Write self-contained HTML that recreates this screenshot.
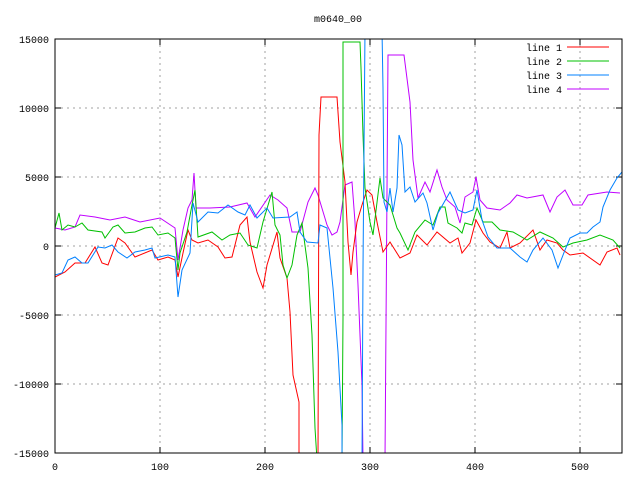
<!DOCTYPE html>
<html><head><style>body{margin:0;background:#fff}svg{display:block}</style></head><body>
<svg width="640" height="480" xmlns="http://www.w3.org/2000/svg" font-family="Liberation Mono, DejaVu Sans Mono, monospace" font-size="10">
<defs><clipPath id="c"><rect x="55" y="39" width="567" height="414"/></clipPath></defs>
<g stroke="#a0a0a0" stroke-dasharray="2,4" stroke-width="1">
<line x1="160" y1="39" x2="160" y2="453"/><line x1="265" y1="39" x2="265" y2="453"/><line x1="370" y1="39" x2="370" y2="453"/><line x1="475" y1="39" x2="475" y2="453"/><line x1="580" y1="39" x2="580" y2="453"/>
<line x1="55" y1="108" x2="622" y2="108"/><line x1="55" y1="177" x2="622" y2="177"/><line x1="55" y1="246" x2="622" y2="246"/><line x1="55" y1="315" x2="622" y2="315"/><line x1="55" y1="384" x2="622" y2="384"/>
</g>
<g stroke="#000">
<line x1="55" y1="108" x2="61" y2="108"/><line x1="55" y1="177" x2="61" y2="177"/><line x1="55" y1="246" x2="61" y2="246"/><line x1="55" y1="315" x2="61" y2="315"/><line x1="55" y1="384" x2="61" y2="384"/>
<line x1="622" y1="108" x2="616" y2="108"/><line x1="622" y1="177" x2="616" y2="177"/><line x1="622" y1="246" x2="616" y2="246"/><line x1="622" y1="315" x2="616" y2="315"/><line x1="622" y1="384" x2="616" y2="384"/>
<line x1="160" y1="453" x2="160" y2="447"/><line x1="265" y1="453" x2="265" y2="447"/><line x1="370" y1="453" x2="370" y2="447"/><line x1="475" y1="453" x2="475" y2="447"/><line x1="580" y1="453" x2="580" y2="447"/>
<line x1="160" y1="39" x2="160" y2="45"/><line x1="265" y1="39" x2="265" y2="45"/><line x1="370" y1="39" x2="370" y2="45"/><line x1="475" y1="39" x2="475" y2="45"/><line x1="580" y1="39" x2="580" y2="45"/>
</g>
<g fill="none" stroke-width="1" clip-path="url(#c)">
<polyline stroke="#c000ff" points="55,228 65,230 75,227 80,215 95,217 110,220 125,217 140,222 160,218 175,228 178,260 183,230 188,208 192,200 194,173 196,208 210,208 230,207 247,203 255,217 270,195 278,200 287,208 292,232 300,232 308,202 315,188 318,195 327,225 332,235 337,232 340,222 345,185 352,182 355,222 358,285 362,385 363,460 385,460 388,55 404,55 410,102 413,160 418,198 425,182 430,192 437,170 442,187 447,200 455,207 460,223 465,197 473,192 476,177 480,200 487,208 500,210 510,203 517,195 527,198 543,195 550,212 557,197 565,190 573,205 582,205 588,195 607,192 620,193"/>
<polyline stroke="#ff0000" points="55,277 65,272 75,263 85,263 95,247 102,263 108,265 118,238 125,243 135,257 152,250 158,260 168,257 175,260 178,277 183,253 188,230 192,240 198,243 208,240 218,247 225,258 232,257 240,225 247,217 250,242 257,272 263,288 267,265 277,232 280,258 287,278 290,312 293,375 299,402 299,460 318,460 319,135 321,97 337,97 340,142 345,182 348,242 351,275 353,252 357,222 362,205 367,190 372,195 377,222 383,252 390,242 400,258 410,253 417,235 427,245 437,232 450,243 458,238 462,253 470,243 476,220 483,233 490,242 500,248 507,232 510,248 520,243 533,230 540,250 547,240 557,243 563,250 570,255 583,253 600,265 607,252 617,248 620,255"/>
<polyline stroke="#00c000" points="55,228 59,213 62,230 68,225 75,227 82,223 88,230 102,232 105,238 113,227 118,225 125,233 135,232 145,228 152,227 158,235 168,233 175,238 178,270 180,253 187,232 192,205 195,190 198,237 212,232 222,240 230,235 240,233 248,245 257,248 263,222 272,192 275,225 280,235 283,265 287,278 292,265 297,235 302,223 308,268 312,335 315,428 317,460 342,460 343,318 343,112 343,42 360,42 361,68 363,135 365,188 370,222 373,235 380,178 383,198 390,205 397,228 400,233 408,250 415,232 425,220 433,225 440,207 445,207 448,223 457,228 462,233 465,223 472,225 477,208 483,222 492,222 500,230 513,232 527,240 540,232 553,238 563,247 573,243 587,240 600,235 613,240 620,248"/>
<polyline stroke="#0080ff" points="55,275 62,273 68,260 75,257 82,263 88,263 98,247 105,248 112,245 118,252 127,258 135,252 145,250 152,248 155,258 168,255 175,257 178,297 182,270 190,253 193,203 198,222 208,212 218,213 228,205 238,212 245,215 250,205 257,218 267,208 273,218 290,217 297,212 300,232 307,242 318,243 320,225 327,228 333,288 338,352 342,425 342,460 362,460 363,268 365,30 382,30 383,88 384,202 387,212 390,188 393,212 397,188 399,135 402,145 405,192 410,187 415,202 423,193 427,203 433,230 438,213 450,192 458,210 465,213 473,210 477,190 482,220 488,237 497,248 510,248 520,257 527,262 533,250 543,238 552,250 558,268 565,250 570,238 580,233 587,233 593,227 600,222 603,207 610,190 617,178 622,172"/>
</g>
<rect x="55" y="39" width="567" height="414" fill="none" stroke="#000"/>
<g fill="#000" text-anchor="end">
<text x="49" y="43">15000</text><text x="49" y="112">10000</text><text x="49" y="181">5000</text><text x="49" y="250">0</text><text x="49" y="319">-5000</text><text x="49" y="388">-10000</text><text x="49" y="457">-15000</text>
</g>
<g fill="#000" text-anchor="middle">
<text x="55" y="470">0</text><text x="160" y="470">100</text><text x="265" y="470">200</text><text x="370" y="470">300</text><text x="475" y="470">400</text><text x="580" y="470">500</text>
<text x="338" y="22">m0640_00</text>
</g>
<g fill="#000" text-anchor="end">
<text x="562" y="51">line 1</text><text x="562" y="65">line 2</text><text x="562" y="79">line 3</text><text x="562" y="93">line 4</text>
</g>
<line x1="567" y1="47" x2="609" y2="47" stroke="#ff0000"/>
<line x1="567" y1="61" x2="609" y2="61" stroke="#00c000"/>
<line x1="567" y1="75" x2="609" y2="75" stroke="#0080ff"/>
<line x1="567" y1="89" x2="609" y2="89" stroke="#c000ff"/>
</svg>
</body></html>
